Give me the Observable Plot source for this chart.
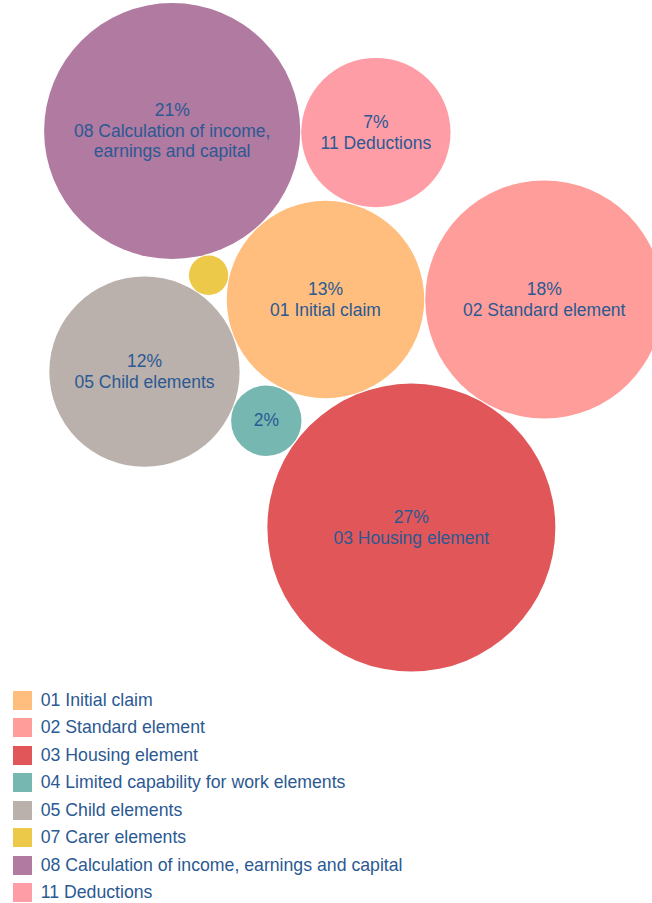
<!DOCTYPE html>
<html>
<head>
<meta charset="utf-8">
<script src="https://cdn.jsdelivr.net/npm/d3@7"></script>
<script src="https://cdn.jsdelivr.net/npm/@observablehq/plot@0.6"></script>
<style>
  html, body { margin: 0; padding: 0; background: #ffffff; }
  body { width: 652px; font-family: "Liberation Sans", Arial, sans-serif; }
  #chart svg { display: block; }
  #legend { padding: 6.5px 0 0 13px; }
  .item { display: flex; align-items: center; height: 27.5px; font-size: 17.7px; color: #2b5992; white-space: nowrap; }
  .sw { width: 19px; height: 19px; margin-right: 8.7px; flex: none; }
</style>
</head>
<body>
<div id="chart"></div>
<div id="legend"></div>
<script>
// ---- data ----
const names = [
  "01 Initial claim",
  "02 Standard element",
  "03 Housing element",
  "04 Limited capability for work elements",
  "05 Child elements",
  "07 Carer elements",
  "08 Calculation of income, earnings and capital",
  "11 Deductions"
];
const shares = [12.6, 18.3, 26.8, 1.6, 11.7, 0.5, 21.2, 7.2];
const colors = ["#ffbe7d", "#ff9d9a", "#e15759", "#76b7b2", "#bab0ac", "#edc949", "#b07aa1", "#ff9da7"];

// ---- chart config ----
const W = 652, H = 680;
const centerX = 325, centerY = 299;   // first bubble sits at the centre of the plot area
const maxRadius = 144, pad = 1;
const textColor = "#2b5992";

const rScale = Plot.scale({r: {type: "sqrt", domain: [0, d3.max(shares)], range: [0, maxRadius]}});
const radii = shares.map(v => rScale.apply(v));

// Sequential packing: each bubble tangent to the first one and to the previous one, going round clockwise
function spiralPack(rs, gap) {
  const pos = rs.map(() => ({x: 0, y: 0}));
  if (rs.length < 2) return pos;
  const R0 = rs[0];
  let theta = 0;
  let dPrev = R0 + rs[1] + gap;
  pos[1] = {x: dPrev, y: 0};
  for (let i = 2; i < rs.length; i++) {
    const d = R0 + rs[i] + gap;
    const s = rs[i - 1] + rs[i] + gap;
    const c = Math.max(-1, Math.min(1, (dPrev * dPrev + d * d - s * s) / (2 * dPrev * d)));
    theta += Math.acos(c);
    pos[i] = {x: d * Math.cos(theta), y: d * Math.sin(theta)};
    dPrev = d;
  }
  return pos;
}
const pos = spiralPack(radii, pad);

const data = names.map((name, i) => ({
  name,
  share: shares[i],
  x: pos[i].x,
  y: pos[i].y,
  label: shares[i] >= 5 ? `${Math.round(shares[i])}%\n${name}` : (shares[i] >= 1 ? `${Math.round(shares[i])}%` : "")
}));

const chart = Plot.plot({
  width: W,
  height: H,
  margin: 0,
  style: {background: "#ffffff", fontFamily: "Liberation Sans, Arial, sans-serif"},
  x: {domain: [-centerX, W - centerX], range: [0, W], axis: null},
  y: {domain: [-centerY, H - centerY], range: [0, H], axis: null},
  r: {type: "sqrt", domain: [0, d3.max(shares)], range: [0, maxRadius]},
  color: {domain: names, range: colors},
  marks: [
    Plot.dot(data, {x: "x", y: "y", r: "share", fill: "name", fillOpacity: 1, stroke: "none"}),
    Plot.text(data.filter(d => d.label), {
      x: "x", y: "y", text: "label",
      fill: textColor, fontSize: 17.5, lineHeight: 1.19, lineWidth: 13,
      textAnchor: "middle", lineAnchor: "middle", dy: -1
    })
  ]
});
document.getElementById("chart").appendChild(chart);

// ---- legend ----
const color = chart.scale("color");
const legend = d3.select("#legend");
names.forEach(n => {
  const item = legend.append("div").attr("class", "item");
  item.append("div").attr("class", "sw").style("background", color.apply(n));
  item.append("span").text(n);
});
</script>
</body>
</html>
